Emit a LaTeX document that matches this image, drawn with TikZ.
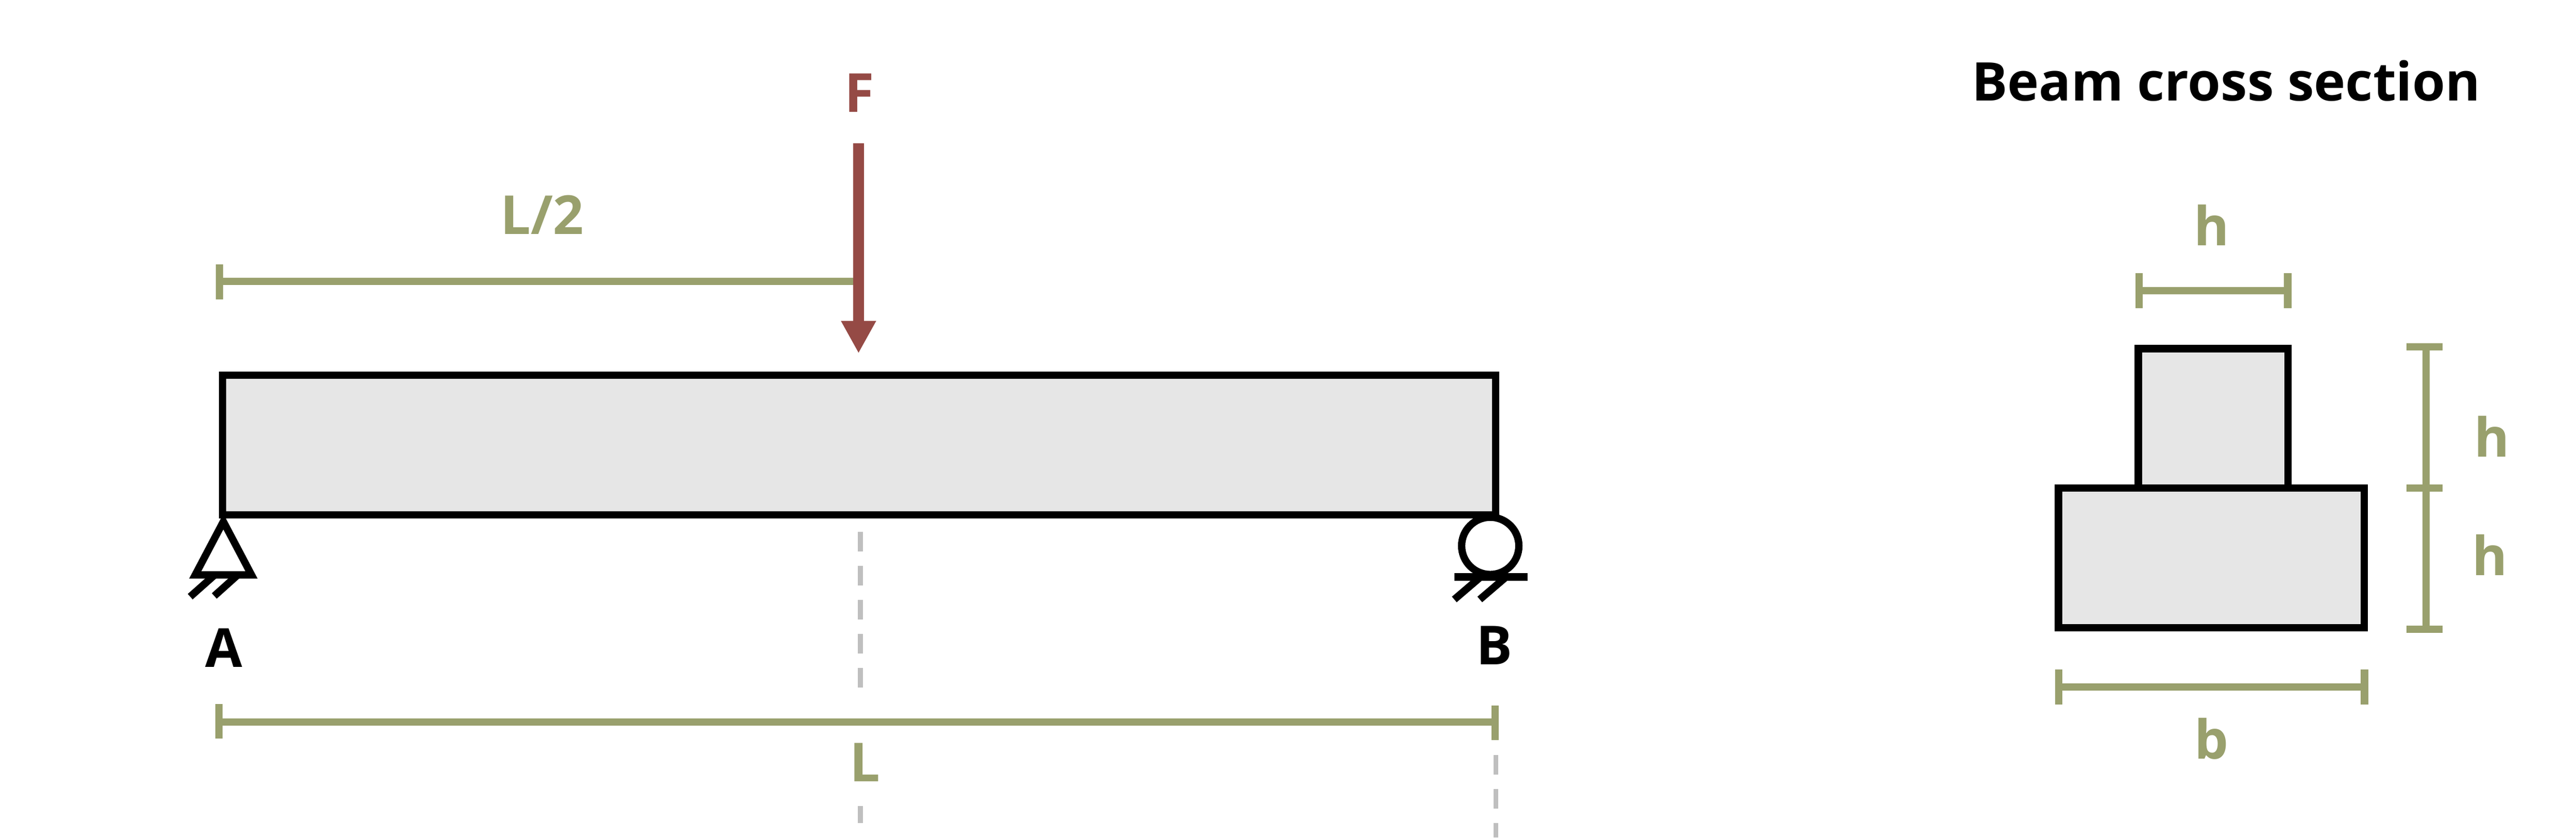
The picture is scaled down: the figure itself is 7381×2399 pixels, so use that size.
\documentclass[tikz,border=0pt]{standalone}
\usepackage{fontspec}
\setmainfont{Open Sans}
\usetikzlibrary{arrows.meta}
\definecolor{dimcol}{HTML}{99A06D}
\definecolor{loadcol}{HTML}{954A45}
\definecolor{beamcol}{HTML}{E6E6E6}
\definecolor{axiscol}{HTML}{BFBFBF}
\tikzset{
    part/.style={draw=black,fill=beamcol,line width=0.21cm},
    support/.style={draw=black,fill=white,line width=0.21cm},
    hatch/.style={draw=black,line width=0.21cm},
    dimline/.style={draw=dimcol,line width=0.21cm},
    axisline/.style={draw=axiscol,line width=0.14cm,dash pattern=on 0.56cm off 0.4125cm},
    dimlabel/.style={text=dimcol,anchor=base,inner sep=0pt,font=\fontsize{43.8}{50}\selectfont\bfseries},
    blacklabel/.style={dimlabel,text=black},
}
\begin{document}
\begin{tikzpicture}[x=0.01cm,y=-0.01cm]
    \useasboundingbox (0,0) rectangle (7381,2399);
    % axis lines
    \draw[axisline] (2465,1524) -- (2465,1975);
    \draw[axisline] (2465,2309) -- (2465,2357);
    \draw[axisline] (4286,2163) -- (4286,2399);
    % beam and supports
    \coordinate (beamNW) at (638,1075);
    \coordinate (beamSE) at (4285.5,1474.5);
    \draw[part] (beamNW) rectangle (beamSE);
    \draw[support,miter limit=10] (640,1494) -- (720.5,1646.5) -- (559.5,1646.5) -- cycle;
    \draw[hatch] (545,1709) -- (616,1646);
    \draw[hatch] (614,1707) -- (682,1646);
    \draw[support] (4270,1563.5) circle (82);
    \draw[hatch] (4167,1652.5) -- (4377,1652.5);
    \foreach \x in {4167,4240}
        \draw[hatch] (\x,1717) -- ({\x+76},1652);
    \node[blacklabel] (labelA) at (641,1911) {A};
    \node[blacklabel] (labelB) at (4282,1904) {B};
    % length dimensions
    \coordinate (halfL) at (629,805.5);
    \coordinate (halfR) at (2460,805.5);
    \draw[dimline] (halfL) -- (halfR);
    \draw[dimline] (629,757) -- (629,857);
    \node[dimlabel] (labelHalf) at (1553,671) {L/2};
    \coordinate (fullL) at (627.5,2068);
    \coordinate (fullR) at (4284,2068);
    \draw[dimline] (fullL) -- (fullR);
    \draw[dimline] (627.5,2016) -- (627.5,2116);
    \draw[dimline] (4284,2021) -- (4284,2120);
    \node[dimlabel] (labelL) at (2479,2238) {L};
    % load
    \coordinate (loadTop) at (2460,411);
    \coordinate (loadTip) at (2460,1012);
    \draw[draw=loadcol,line width=0.32cm,-{Triangle[length=0.93cm,width=0.94cm,fill=loadcol]}] (loadTop) -- (loadTip);
    \node[dimlabel,text=loadcol] (labelF) at (2462,321) {F};
    % cross section
    \node[blacklabel,font=\fontsize{43.4}{50}\selectfont\bfseries] (title) at (6378.5,289) {Beam cross section};
    \draw[part] (6127,998.5) rectangle (6556,1397.5);
    \draw[part] (5898,1397.5) rectangle (6774.5,1798);
    % section dimensions
    \draw[dimline] (6129,832) -- (6555,832);
    \foreach \x in {6129,6555}
        \draw[dimline] (\x,782) -- (\x,883);
    \node[dimlabel] (labelTop) at (6337,703) {h};
    \draw[dimline] (6951,993) -- (6951,1802);
    \foreach \y in {993,1397.5,1802}
        \draw[dimline] (6895,\y) -- (6998,\y);
    \node[dimlabel] (labelUpper) at (7140,1309) {h};
    \node[dimlabel] (labelLower) at (7133.5,1648) {h};
    \draw[dimline] (5899,1968) -- (6775,1968);
    \foreach \x in {5899,6775}
        \draw[dimline] (\x,1917) -- (\x,2018);
    \node[dimlabel] (labelB2) at (6337,2174) {b};
\end{tikzpicture}
\end{document}
